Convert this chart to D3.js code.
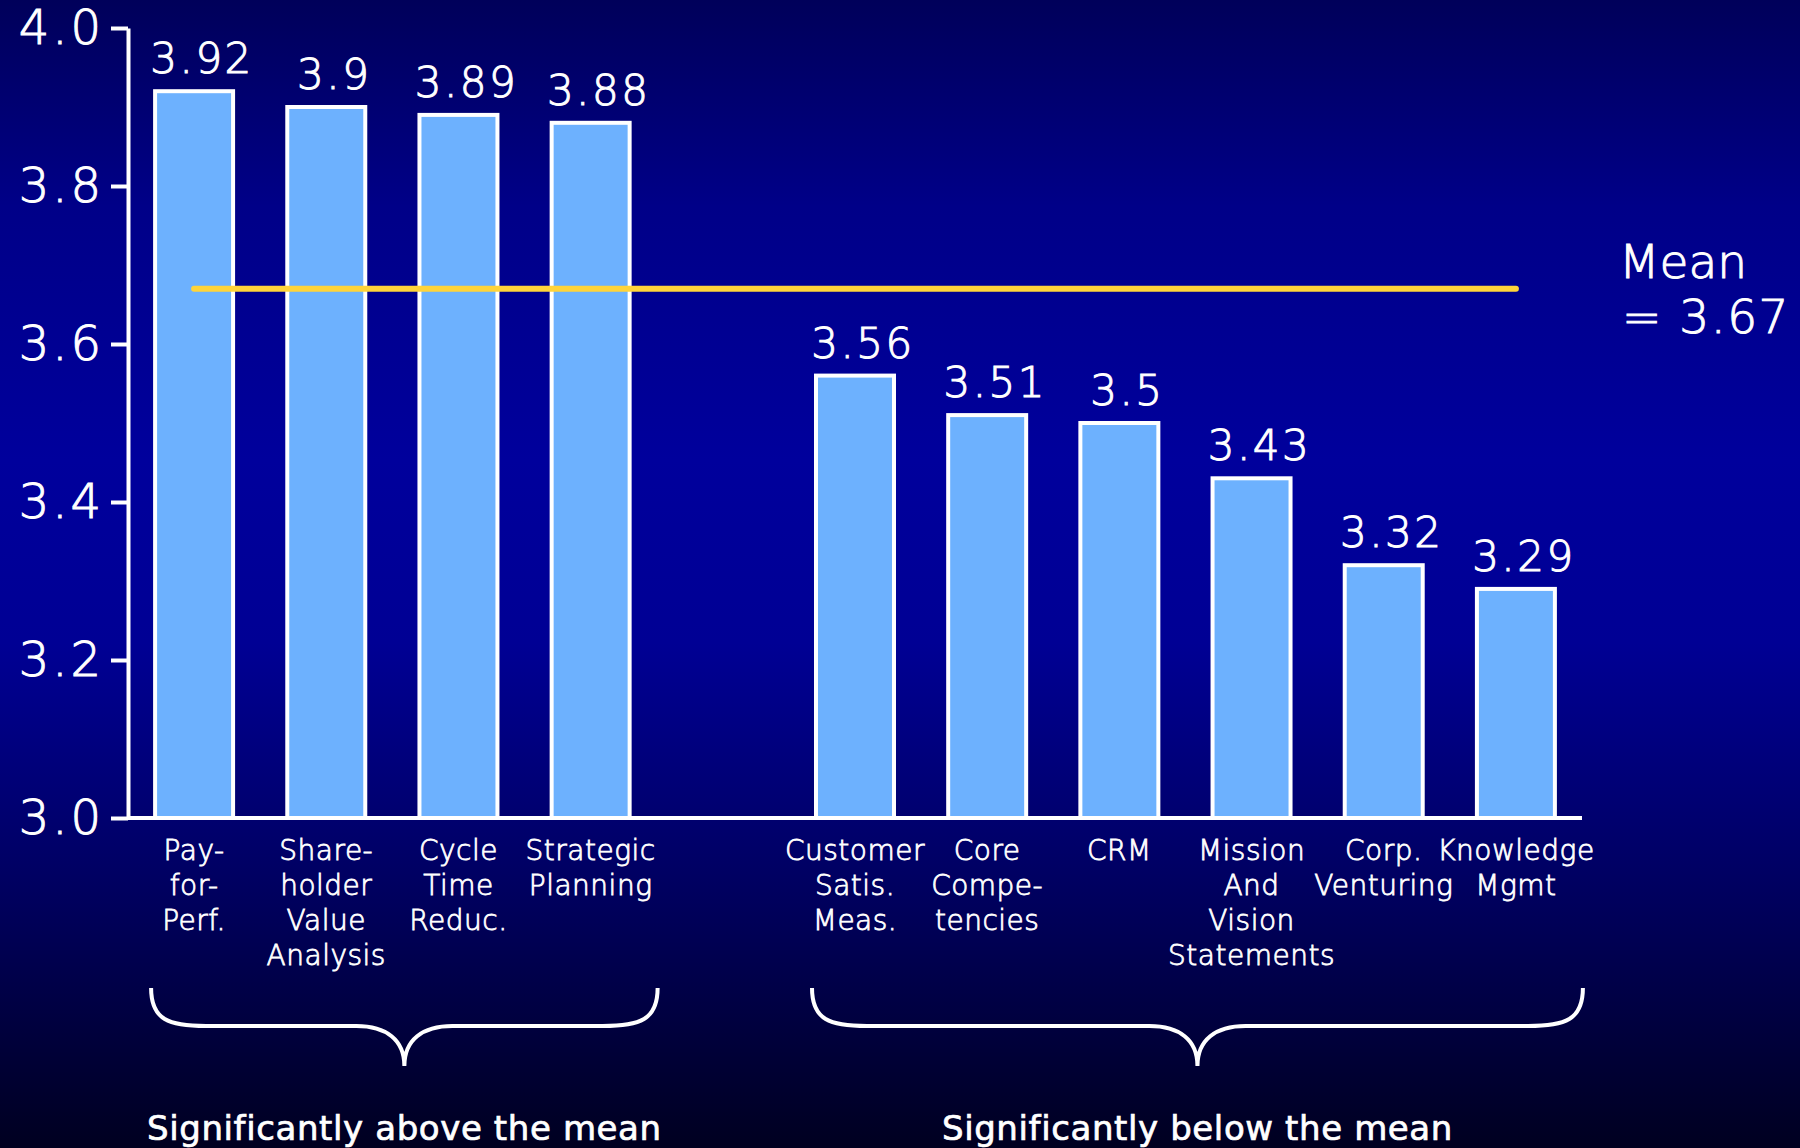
<!DOCTYPE html>
<html>
<head>
<meta charset="utf-8">
<script src="https://cdn.jsdelivr.net/npm/d3@7"></script>
<style>
    html, body { margin: 0; padding: 0; background: #000050; }
    svg { display: block; }
    text { fill: #ffffff; font-family: 'DejaVu Sans', sans-serif; }
    .thin { font-weight: 200; stroke: #ffffff; stroke-width: 1px; }
    .label { font-weight: 200; stroke: #ffffff; stroke-width: 0.8px; }
</style>
</head>
<body>
<svg id="chart" width="1800" height="1148"></svg>
<script>
const categories = ['Pay-for-Perf.', 'Shareholder Value Analysis', 'Cycle Time Reduc.', 'Strategic Planning',
    'Customer Satis. Meas.', 'Core Competencies', 'CRM', 'Mission And Vision Statements',
    'Corp. Venturing', 'Knowledge Mgmt'];
const categoryLines = [
    ['Pay-', 'for-', 'Perf.'],
    ['Share-', 'holder', 'Value', 'Analysis'],
    ['Cycle', 'Time', 'Reduc.'],
    ['Strategic', 'Planning'],
    ['Customer', 'Satis.', 'Meas.'],
    ['Core', 'Compe-', 'tencies'],
    ['CRM'],
    ['Mission', 'And', 'Vision', 'Statements'],
    ['Corp.', 'Venturing'],
    ['Knowledge', 'Mgmt']
];
const scores = [3.92, 3.9, 3.89, 3.88, 3.56, 3.51, 3.5, 3.43, 3.32, 3.29];
const groupNames = ['Significantly above the mean', 'Significantly below the mean'];
const groupOf = [0, 0, 0, 0, 1, 1, 1, 1, 1, 1];
const meanScore = 3.67;
const meanLabel = ['Mean', '= 3.67'];
const yTicks = [3.0, 3.2, 3.4, 3.6, 3.8, 4.0];

const settings = {
    width: 1800,
    height: 1148,
    left: 128,
    right: 1582,
    top: 28,
    bottom: 818
};

const svg = d3.select('#chart');

// background gradient
const defs = svg.append('defs');
const grad = defs.append('linearGradient').attr('id', 'bg')
    .attr('x1', 0).attr('y1', 0).attr('x2', 0).attr('y2', 1);
[[0, '#00005a'], [0.18, '#000088'], [0.4, '#00009c'], [0.56, '#000094'], [0.78, '#00005e'], [1, '#000020']]
    .forEach((s) => {
        grad.append('stop').attr('offset', s[0]).attr('stop-color', s[1]);
    });
svg.append('rect').attr('width', settings.width).attr('height', settings.height).attr('fill', 'url(#bg)');

// one empty slot between the two groups
const slots = categories.slice(0, 4).concat(['__gap__'], categories.slice(4));

const x = d3.scaleBand().domain(slots)
    .range([settings.left, settings.right])
    .paddingInner(0.41)
    .paddingOuter(0.205);
const y = d3.scaleLinear().domain([3.0, 4.0]).range([settings.bottom, settings.top]);
const bw = x.bandwidth();

const data = categories.map((c, i) => ({name: c, value: scores[i], lines: categoryLines[i], group: groupOf[i]}));

// y axis
const yAxis = svg.append('g').attr('transform', `translate(${settings.left} 0)`)
    .call(d3.axisLeft(y).tickValues(yTicks).tickFormat(d3.format('.1f')).tickSize(17).tickSizeOuter(0).tickPadding(7));
yAxis.select('.domain').attr('stroke', '#fff').attr('stroke-width', 4);
yAxis.selectAll('.tick line').attr('stroke', '#fff').attr('stroke-width', 4);
yAxis.selectAll('.tick text')
    .attr('class', 'thin')
    .attr('fill', '#fff')
    .style('font-family', "'DejaVu Sans', sans-serif")
    .style('font-size', '48px')
    .style('letter-spacing', '3px');

// bars
svg.append('g').selectAll('rect').data(data).enter().append('rect')
    .attr('x', (d) => x(d.name))
    .attr('y', (d) => y(d.value))
    .attr('width', bw)
    .attr('height', (d) => y(3.0) - y(d.value))
    .attr('fill', '#6db1fe')
    .attr('stroke', '#fff')
    .attr('stroke-width', 4);

// x baseline
svg.append('line')
    .attr('x1', settings.left).attr('x2', settings.right)
    .attr('y1', y(3.0)).attr('y2', y(3.0))
    .attr('stroke', '#fff').attr('stroke-width', 4);

// value labels
svg.append('g').selectAll('text').data(data).enter().append('text')
    .attr('class', 'thin')
    .attr('x', (d) => x(d.name) + bw / 2 + 8)
    .attr('y', (d) => y(d.value) - 18)
    .attr('text-anchor', 'middle')
    .style('font-size', '42px')
    .style('letter-spacing', '2.5px')
    .text((d) => String(d.value));

// category labels
const labels = svg.append('g').selectAll('text').data(data).enter().append('text')
    .attr('class', 'label')
    .attr('text-anchor', 'middle')
    .style('font-size', '28px')
    .style('letter-spacing', '0.5px');
labels.selectAll('tspan').data((d) => d.lines.map((l) => ({line: l, cx: x(d.name) + bw / 2})))
    .enter().append('tspan')
    .attr('x', (d) => d.cx)
    .attr('y', (d, i) => 860 + i * 35)
    .text((d) => d.line);

// mean line
svg.append('line')
    .attr('x1', x(categories[0]) + bw / 2)
    .attr('x2', x(categories[categories.length - 1]) + bw / 2)
    .attr('y1', y(meanScore)).attr('y2', y(meanScore))
    .attr('stroke', '#ffd43a').attr('stroke-width', 6).attr('stroke-linecap', 'round');

svg.append('text').attr('class', 'thin').attr('x', settings.right + 37).attr('y', y(meanScore) - 11)
    .style('font-size', '47px').text(meanLabel[0]);
svg.append('text').attr('class', 'thin').attr('x', settings.right + 40).attr('y', y(meanScore) + 44)
    .style('font-size', '47px').style('letter-spacing', '1.5px').text(meanLabel[1]);

// braces + group titles
function bracePath(x0, x1, top, mid, tip) {
    const c = (x0 + x1) / 2;
    return `M${x0},${top} C${x0},${mid - 6} ${x0 + 18},${mid} ${x0 + 55},${mid}` +
        ` L${c - 48},${mid} C${c - 18},${mid} ${c},${mid + 14} ${c},${tip}` +
        ` C${c},${mid + 14} ${c + 18},${mid} ${c + 48},${mid}` +
        ` L${x1 - 55},${mid} C${x1 - 18},${mid} ${x1},${mid - 6} ${x1},${top}`;
}

groupNames.forEach((g, gi) => {
    const members = data.filter((d) => d.group === gi);
    const start = x(members[0].name);
    const end = x(members[members.length - 1].name) + bw;
    const mid = (start + end) / 2 + 12;
    const half = (end - start) / 2 + 16;
    svg.append('path').attr('d', bracePath(mid - half, mid + half, 988, 1026, 1066))
        .attr('fill', 'none').attr('stroke', '#fff').attr('stroke-width', 4);
    svg.append('text').attr('x', mid).attr('y', 1140)
        .attr('text-anchor', 'middle')
        .style('font-size', '34px')
        .style('letter-spacing', '0.6px')
        .attr('stroke', '#fff').attr('stroke-width', 0.7)
        .text(g);
});
</script>
</body>
</html>
